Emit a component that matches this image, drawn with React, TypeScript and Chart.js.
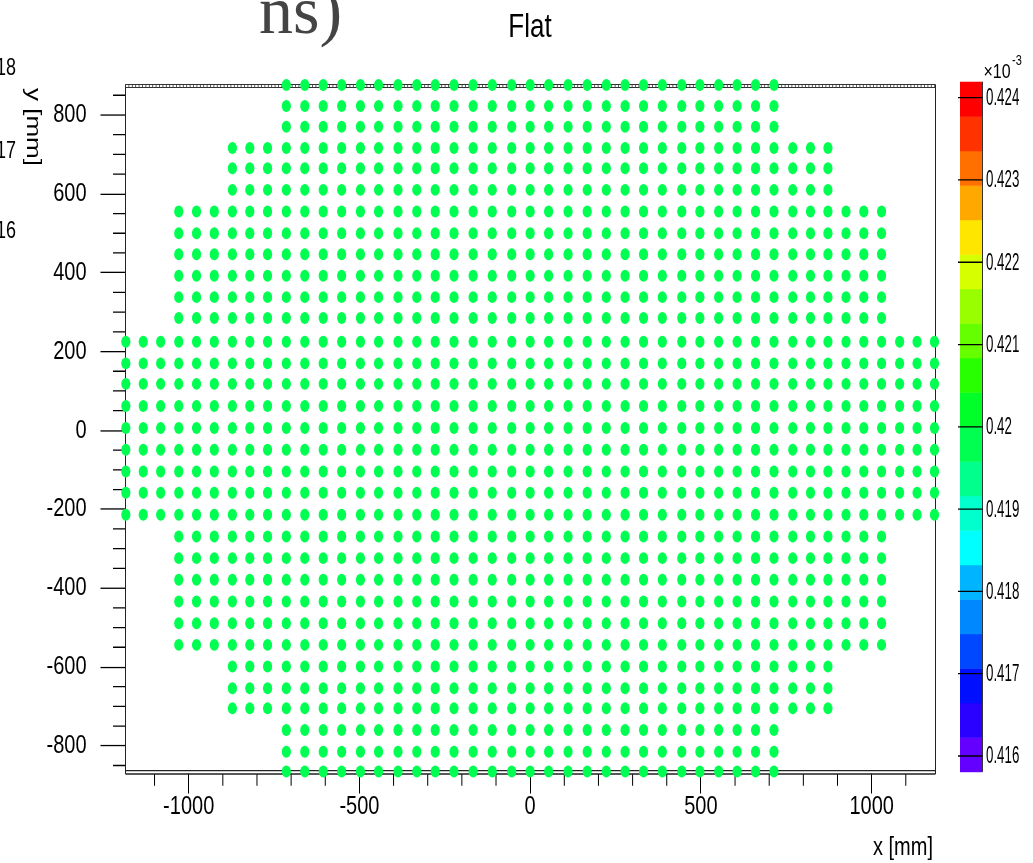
import React, { useEffect, useRef } from "react";
import { Chart, registerables } from "chart.js";

Chart.register(...registerables);

const CANVAS_W = 1033;
const CANVAS_H = 863;
const STRETCH = 1.3; // the reference is stretched vertically

// ---- data ----
// column centres (mm) for x >= 0 (mirrored for x < 0)
const xColumnsMM = [0, 54, 111, 167, 223, 278, 332, 387, 444, 497, 552, 606, 660, 714, 769, 821, 872, 925, 977, 1029, 1082, 1133, 1184];
// row centres (mm), top to bottom
const yRowsMM = [
  876, 823, 770, 716, 665, 610, 555, 500, 447, 392, 338, 285, 225, 170, 118, 62, 6,
  -49, -104, -158, -214, -269, -324, -379, -434, -489, -544, -599, -654, -705, -760, -815, -865,
];
// number of columns on each side of x = 0 for each row (top to bottom)
const rowHalfColumns = [
  13, 13, 13, 16, 16, 16, 19, 19, 19, 19, 19, 19, 22, 22, 22, 22, 22,
  22, 22, 22, 22, 19, 19, 19, 19, 19, 19, 16, 16, 16, 13, 13, 13,
];
// every cell shows the same ("Flat") value, in units of 1e-3
const cellValue = 0.4198;

const xTickValues = [-1000, -500, 0, 500, 1000];
const yTickValues = [-800, -600, -400, -200, 0, 200, 400, 600, 800];
const zTickLabels = ["0.416", "0.417", "0.418", "0.419", "0.42", "0.421", "0.422", "0.423", "0.424"];

const paletteColors = [
  "#6400ff", "#2a00ff", "#0010ff", "#0048ff", "#0088ff", "#00b4ff", "#00ffff", "#00ffcc", "#00ff8c", "#00ff50",
  "#00ff28", "#28ff00", "#66ff00", "#99ff00", "#d6ff00", "#ffe600", "#ffa800", "#ff7000", "#ff3200", "#ff0000",
];
const paletteLow = 0.415809;
const paletteHigh = 0.424194;

const xRange = [-1185, 1187];
const yRange = [-871.5, 873.5];
const zRange = [0.415781, 0.424142];

function colorFor(v: number): string {
  const step = (paletteHigh - paletteLow) / paletteColors.length;
  let k = Math.floor((v - paletteLow) / step);
  k = Math.max(0, Math.min(paletteColors.length - 1, k));
  return paletteColors[k];
}

function buildPoints() {
  const pts: { x: number; y: number; v: number }[] = [];
  yRowsMM.forEach((y, r) => {
    const h = rowHalfColumns[r];
    for (let c = -h; c <= h; c++) {
      pts.push({ x: Math.sign(c) * xColumnsMM[Math.abs(c)], y, v: cellValue });
    }
  });
  return pts;
}

// ---- layout (logical, unstretched coordinates) ----
const AREA_LEFT = 125.5;
const AREA_RIGHT = 935.5;
const AREA_TOP = 86 / STRETCH;
const AREA_BOTTOM = 774 / STRETCH;
const Y_AXIS_W = AREA_LEFT;
const X_AXIS_H = 40;
const Z_AXIS_W = CANVAS_W - AREA_RIGHT;
const BAR_LEFT = 960;
const BAR_RIGHT = 982.5;

const SANS = "'Liberation Sans', Arial, Helvetica, sans-serif";

const decorPlugin = {
  id: "rootDecor",
  beforeDraw(chart: any) {
    const ctx = chart.ctx as CanvasRenderingContext2D;
    ctx.save();
    ctx.setTransform(1, 0, 0, STRETCH, 0, 0);
  },
  beforeDatasetsDraw(chart: any) {
    const ctx = chart.ctx as CanvasRenderingContext2D;
    const { left, right, top, bottom } = chart.chartArea;
    const xs = chart.scales.x;
    const ys = chart.scales.y;
    const zs = chart.scales.z;
    ctx.save();
    ctx.strokeStyle = "#000";
    ctx.lineWidth = 1;

    // minor ticks
    ctx.beginPath();
    for (let v = -1100; v <= 1100; v += 100) {
      if (v % 500 === 0) continue;
      const px = xs.getPixelForValue(v);
      ctx.moveTo(px, bottom);
      ctx.lineTo(px, bottom + 9);
    }
    for (let v = -850; v <= 850; v += 50) {
      if (v % 200 === 0) continue;
      const py = ys.getPixelForValue(v);
      ctx.moveTo(left - 12.5, py);
      ctx.lineTo(left, py);
    }
    ctx.stroke();

    // frame: left / right
    ctx.strokeStyle = "#222";
    ctx.beginPath();
    ctx.moveTo(left, top - 1.2);
    ctx.lineTo(left, bottom);
    ctx.moveTo(right, top - 1.2);
    ctx.lineTo(right, bottom);
    ctx.stroke();
    // bottom double line
    ctx.beginPath();
    ctx.moveTo(left, bottom - 2.6);
    ctx.lineTo(right, bottom - 2.6);
    ctx.moveTo(left, bottom);
    ctx.lineTo(right, bottom);
    ctx.stroke();
    // top ladder
    const t1 = top - 1.2;
    const t2 = top + 1.2;
    ctx.lineWidth = 0.8;
    ctx.strokeStyle = "#333";
    ctx.beginPath();
    ctx.moveTo(left, t1);
    ctx.lineTo(right, t1);
    ctx.moveTo(left, t2);
    ctx.lineTo(right, t2);
    for (let px = left; px <= right; px += 3.4) {
      ctx.moveTo(px, t1);
      ctx.lineTo(px, t2);
    }
    ctx.stroke();

    // colour bar
    const nb = paletteColors.length;
    const step = (paletteHigh - paletteLow) / nb;
    for (let k = 0; k < nb; k++) {
      const y1 = zs.getPixelForValue(paletteLow + k * step);
      const y2 = zs.getPixelForValue(paletteLow + (k + 1) * step);
      ctx.fillStyle = paletteColors[k];
      ctx.fillRect(BAR_LEFT, y2, BAR_RIGHT - BAR_LEFT, y1 - y2 + 0.4);
    }
    const barTop = zs.getPixelForValue(paletteHigh);
    const barBottom = zs.getPixelForValue(paletteLow);
    ctx.strokeStyle = "#333";
    ctx.lineWidth = 1;
    ctx.beginPath();
    ctx.moveTo(BAR_RIGHT, barTop);
    ctx.lineTo(BAR_RIGHT, barBottom);
    ctx.stroke();
    ctx.strokeStyle = "#000";
    ctx.beginPath();
    for (const lab of zTickLabels) {
      const py = zs.getPixelForValue(parseFloat(lab));
      ctx.moveTo(BAR_LEFT - 2, py);
      ctx.lineTo(BAR_RIGHT, py);
    }
    ctx.stroke();

    // colour bar labels (condensed like the reference)
    ctx.fillStyle = "#000";
    ctx.font = `18px ${SANS}`;
    ctx.textAlign = "left";
    ctx.textBaseline = "middle";
    for (const lab of zTickLabels) {
      const py = zs.getPixelForValue(parseFloat(lab));
      ctx.save();
      ctx.translate(986, py + 0.8);
      ctx.scale(0.74, 1);
      ctx.fillText(lab, 0, 0);
      ctx.restore();
    }

    // texts
    ctx.textBaseline = "alphabetic";
    ctx.font = `26px ${SANS}`;
    ctx.textAlign = "center";
    ctx.fillText("Flat", 530, 37 / STRETCH);

    ctx.font = `20px ${SANS}`;
    ctx.textAlign = "right";
    ctx.fillText("x [mm]", 933, 855 / STRETCH);

    ctx.font = `18px ${SANS}`;
    ctx.fillText("18", 16, 75 / STRETCH);
    ctx.fillText("17", 16, 158 / STRETCH);
    ctx.fillText("16", 16, 238 / STRETCH);

    ctx.font = `20px ${SANS}`;
    ctx.save();
    ctx.translate(27.2, 88 / STRETCH);
    ctx.rotate(Math.PI / 2);
    ctx.textAlign = "left";
    ctx.fillText("y [mm]", 0, 0);
    ctx.restore();

    ctx.textAlign = "left";
    ctx.font = `16px ${SANS}`;
    ctx.fillText("\u00d710", 983.5, 78 / STRETCH);
    ctx.font = `11px ${SANS}`;
    ctx.fillText("-3", 1012, 65 / STRETCH);

    ctx.restore();
  },
  afterDraw(chart: any) {
    const ctx = chart.ctx as CanvasRenderingContext2D;
    ctx.restore();
    ctx.save();
    ctx.font = "68px 'Liberation Serif', 'Times New Roman', serif";
    ctx.fillStyle = "#444";
    ctx.textAlign = "left";
    ctx.textBaseline = "alphabetic";
    ctx.fillText("ns)", 259, 33);
    ctx.restore();
  },
};

export default function App() {
  const canvasRef = useRef<HTMLCanvasElement | null>(null);

  useEffect(() => {
    if (!canvasRef.current) return;
    const points = buildPoints();
    const chart = new Chart(canvasRef.current, {
      type: "scatter",
      data: {
        datasets: [
          {
            label: "Flat",
            data: points,
            pointRadius: 4.6,
            pointBorderWidth: 0,
            pointBackgroundColor: points.map((p) => colorFor(p.v)),
            pointBorderColor: "rgba(0,0,0,0)",
            clip: false as any,
          },
        ],
      },
      options: {
        animation: false,
        responsive: false,
        maintainAspectRatio: false,
        devicePixelRatio: 1,
        events: [],
        layout: {
          padding: {
            top: AREA_TOP,
            left: AREA_LEFT - Y_AXIS_W,
            right: CANVAS_W - AREA_RIGHT - Z_AXIS_W,
            bottom: CANVAS_H - AREA_BOTTOM - X_AXIS_H,
          },
        },
        plugins: {
          legend: { display: false },
          tooltip: { enabled: false },
          title: { display: false },
        },
        scales: {
          x: {
            type: "linear",
            position: "bottom",
            min: xRange[0],
            max: xRange[1],
            afterFit: (s: any) => {
              s.height = X_AXIS_H;
            },
            afterBuildTicks: (s: any) => {
              s.ticks = xTickValues.map((v) => ({ value: v }));
            },
            grid: { drawOnChartArea: false, tickLength: 15, color: "#000", lineWidth: 1 },
            border: { display: false },
            ticks: {
              autoSkip: false,
              maxRotation: 0,
              padding: 0,
              color: "#000",
              font: { family: SANS, size: 20, lineHeight: 1 },
              callback: (v: any) => String(v),
            },
          },
          y: {
            type: "linear",
            position: "left",
            min: yRange[0],
            max: yRange[1],
            afterFit: (s: any) => {
              s.width = Y_AXIS_W;
            },
            afterBuildTicks: (s: any) => {
              s.ticks = yTickValues.map((v) => ({ value: v }));
            },
            grid: { drawOnChartArea: false, tickLength: 25, color: "#000", lineWidth: 1 },
            border: { display: false },
            ticks: {
              autoSkip: false,
              padding: 14,
              color: "#000",
              font: { family: SANS, size: 20 },
              callback: (v: any) => String(v),
            },
          },
          z: {
            type: "linear",
            axis: "y",
            position: "right",
            min: zRange[0],
            max: zRange[1],
            afterFit: (s: any) => {
              s.width = Z_AXIS_W;
            },
            afterBuildTicks: (s: any) => {
              s.ticks = zTickLabels.map((l) => ({ value: parseFloat(l) }));
            },
            grid: { display: false, drawOnChartArea: false },
            border: { display: false },
            ticks: { display: false },
          },
        } as any,
      },
      plugins: [decorPlugin as any],
    });
    return () => chart.destroy();
  }, []);

  return (
    <div style={{ position: "absolute", left: 0, top: 0, width: CANVAS_W, height: CANVAS_H, background: "#fff", overflow: "hidden" }}>
      <canvas ref={canvasRef} width={CANVAS_W} height={CANVAS_H} style={{ display: "block", width: CANVAS_W, height: CANVAS_H }} />
    </div>
  );
}
